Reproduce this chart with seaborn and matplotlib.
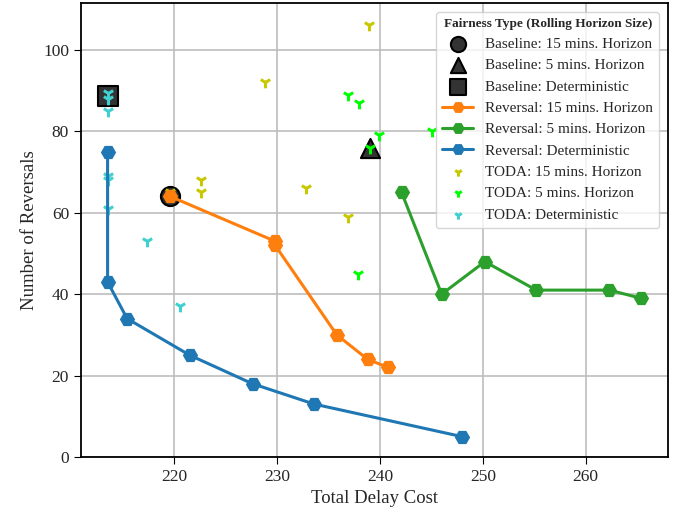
import matplotlib

matplotlib.use("Agg")

import matplotlib.pyplot as plt
import seaborn as sns
from matplotlib.collections import PathCollection

# Baseline results (single points)
base_15_x, base_15_y = [219.6], [64]
base_5_x, base_5_y = [239.0], [76]
base_det_x, base_det_y = [213.5], [88.7]

# Reversal fairness curves
rev_15_x = [219.6, 229.8, 229.8, 235.8, 238.8, 240.8]
rev_15_y = [64, 53, 52, 30, 24, 22]
rev_5_x = [242.1, 246.0, 250.2, 255.2, 262.3, 265.4]
rev_5_y = [65, 40, 48, 41, 41, 39]
rev_det_x = [213.5, 213.5, 215.4, 221.5, 227.6, 233.6, 248.0]
rev_det_y = [75, 43, 34, 25, 18, 13, 5]

# TODA fairness points
toda_15_x = [238.9, 228.8, 222.6, 222.6, 232.8, 236.9, 219.6]
toda_15_y = [106, 92, 68, 65, 66, 59, 65]
toda_5_x = [236.9, 238.0, 239.9, 245.1, 237.9, 239.0]
toda_5_y = [89, 87, 79, 80, 45, 76]
toda_det_x = [213.5, 213.5, 213.5, 213.5, 213.5, 213.5, 217.3, 220.5]
toda_det_y = [89.5, 88, 85, 69, 68, 61, 53, 37]

sns.set_style("whitegrid", {"axes.edgecolor": "black", "grid.color": "#bdbdbd",
                            "xtick.bottom": True, "ytick.left": True})
plt.rcParams["font.family"] = ["Liberation Serif", "DejaVu Serif"]

fig, ax = plt.subplots(figsize=(6.8, 5.17), dpi=100)
fig.subplots_adjust(left=0.119, right=0.982, bottom=0.116, top=0.994)

base_kw = dict(color="#333333", edgecolor="black", linewidth=1.5, s=190, zorder=3, ax=ax)
sns.scatterplot(x=base_15_x, y=base_15_y, marker="o", label="Baseline: 15 mins. Horizon", **base_kw)
sns.scatterplot(x=base_5_x, y=base_5_y, marker="^", label="Baseline: 5 mins. Horizon", **base_kw)
sns.scatterplot(x=base_det_x, y=base_det_y, marker="s", label="Baseline: Deterministic", **base_kw)

toda_kw = dict(marker="1", s=70, linewidth=2.2, zorder=4, ax=ax)
sns.scatterplot(x=toda_15_x, y=toda_15_y, color="#c8c800", label="TODA: 15 mins. Horizon", **toda_kw)
sns.scatterplot(x=toda_5_x, y=toda_5_y, color="#00ff00", label="TODA: 5 mins. Horizon", **toda_kw)
sns.scatterplot(x=toda_det_x, y=toda_det_y, color="#40d0d0", label="TODA: Deterministic", **toda_kw)

rev_kw = dict(marker="H", markersize=11, linewidth=2.2, markeredgewidth=0,
              estimator=None, sort=False, zorder=5, ax=ax)
sns.lineplot(x=rev_15_x, y=rev_15_y, color="tab:orange", label="Reversal: 15 mins. Horizon", **rev_kw)
sns.lineplot(x=rev_5_x, y=rev_5_y, color="tab:green", label="Reversal: 5 mins. Horizon", **rev_kw)
sns.lineplot(x=rev_det_x, y=rev_det_y, color="tab:blue", label="Reversal: Deterministic", **rev_kw)

ax.set_ylim(0, 111.5)
ax.set_xticks([220, 230, 240, 250, 260])
ax.set_yticks([0, 20, 40, 60, 80, 100])
ax.tick_params(labelsize=12.5, length=5, color="black")
ax.set_xlabel("Total Delay Cost", fontsize=13.5)
ax.set_ylabel("Number of Reversals", fontsize=13.5)
ax.grid(True, linewidth=1.2)
for sp in ax.spines.values():
    sp.set_linewidth(1.3)

handles, labels = ax.get_legend_handles_labels()
order = [0, 1, 2, 6, 7, 8, 3, 4, 5]
leg = ax.legend([handles[i] for i in order], [labels[i] for i in order],
                title="Fairness Type (Rolling Horizon Size)", loc="upper right",
                fontsize=11, title_fontproperties={"weight": "bold", "size": 9.5},
                frameon=True, borderaxespad=0.55, labelspacing=0.5)
for i, h in enumerate(leg.legend_handles):
    if isinstance(h, PathCollection):
        h.set_sizes([120] if i < 3 else [35])
    else:
        h.set_markersize(9)

plt.savefig("out.png", dpi=100)
plt.close()
